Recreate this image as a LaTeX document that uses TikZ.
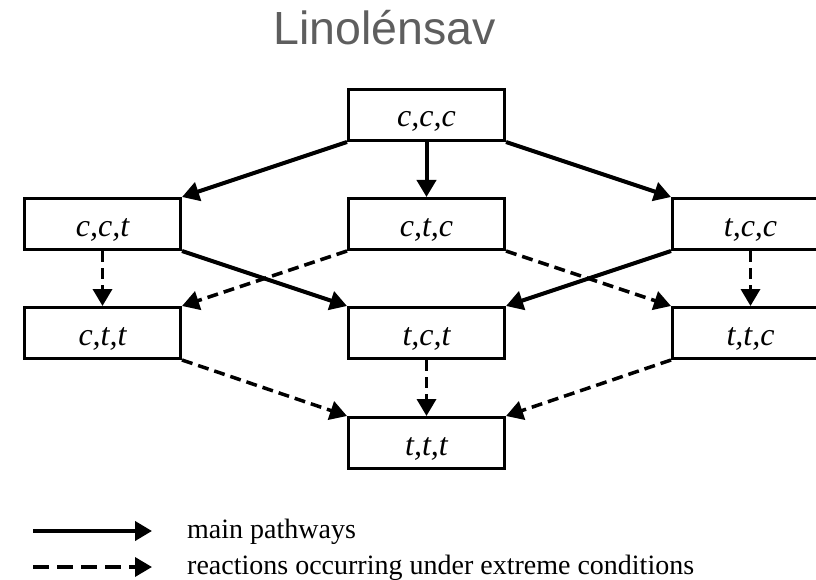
\documentclass[tikz,border=0pt]{standalone}
\usepackage{fontspec}
\setmainfont{Liberation Serif}
\newfontfamily\titlefont{Liberation Sans}
\usetikzlibrary{arrows.meta}

\tikzset{
  isomer/.style={draw=black, line width=3pt, minimum width=156pt, minimum height=51pt,
    inner sep=0pt, text height=24pt, text depth=0pt,
    font=\fontsize{32}{34}\selectfont\itshape},
  mainpath/.style={line width=4pt, -{Triangle[length=17pt,width=19pt]}},
  extremepath/.style={line width=3.5pt, dash pattern=on 11pt off 6pt,
    -{Triangle[length=17pt,width=19pt]}},
  legenddash/.style={extremepath, dash pattern=on 16pt off 8pt},
  legendtext/.style={anchor=base west, inner sep=0pt, font=\fontsize{28}{30}\selectfont},
}

\begin{document}
\begin{tikzpicture}[x=1pt, y=-1pt]
  \useasboundingbox (0,0) rectangle (816,580);
  \clip (0,0) rectangle (816,580);

  % title
  \node[anchor=base west, inner sep=0pt, text=black!63,
        font=\titlefont\fontsize{46.5}{48}\selectfont] (title) at (273,45) {Linolénsav};

  % isomers
  \node[isomer] (ccc) at (426.5,115) {c,c,c};
  \node[isomer] (cct) at (102.5,224) {c,c,t};
  \node[isomer] (ctc) at (426.5,224) {c,t,c};
  \node[isomer] (tcc) at (750.5,224) {t,c,c};
  \node[isomer] (ctt) at (102.5,333) {c,t,t};
  \node[isomer] (tct) at (426.5,333) {t,c,t};
  \node[isomer] (ttc) at (750.5,333) {t,t,c};
  \node[isomer] (ttt) at (426.5,443) {t,t,t};

  % main pathways
  \draw[mainpath] (ccc.south west) -- (cct.north east);
  \draw[mainpath] (ccc.south) -- (ctc.north);
  \draw[mainpath] (ccc.south east) -- (tcc.north west);
  \draw[mainpath] (cct.south east) -- (tct.north west);
  \draw[mainpath] (tcc.south west) -- (tct.north east);

  % reactions under extreme conditions
  \draw[extremepath] (cct.south) -- (ctt.north);
  \draw[extremepath] (tcc.south) -- (ttc.north);
  \draw[extremepath] (ctc.south west) -- (ctt.north east);
  \draw[extremepath] (ctc.south east) -- (ttc.north west);
  \draw[extremepath] (ctt.south east) -- (ttt.north west);
  \draw[extremepath] (tct.south) -- (ttt.north);
  \draw[extremepath] (ttc.south west) -- (ttt.north east);

  % legend
  \coordinate (l1a) at (33,531);
  \coordinate (l1b) at (152,531);
  \coordinate (l2a) at (33,567);
  \coordinate (l2b) at (152,567);
  \draw[mainpath] (l1a) -- (l1b);
  \draw[legenddash] (l2a) -- (l2b);
  \node[legendtext] (lt1) at (187,538) {main pathways};
  \node[legendtext] (lt2) at (187,574) {reactions occurring under extreme conditions};
\end{tikzpicture}
\end{document}
